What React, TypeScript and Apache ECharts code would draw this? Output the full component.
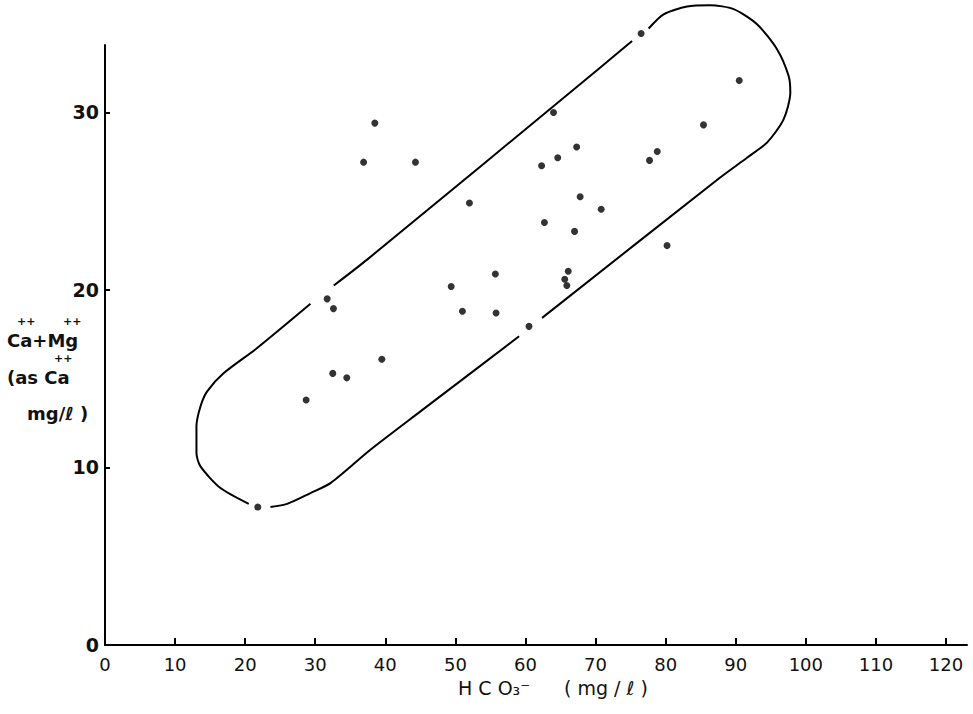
import React, { useEffect, useRef } from "react";
import * as echarts from "echarts";

// Sample measurements: bicarbonate (mg/l) against hardness as Ca (mg/l)
const hco3 = [
  28.7, 32.5, 34.5, 39.5, 31.7, 32.6, 36.9, 38.5, 44.3, 52.0, 49.4,
  51.0, 55.7, 55.8, 60.5, 62.3, 62.7, 64.0, 64.6, 67.0, 67.3, 67.8,
  70.8, 65.6, 65.9, 66.1, 77.7, 78.8, 80.2, 85.4, 90.5, 76.5, 21.8,
];
const caMg = [
  13.8, 15.3, 15.05, 16.1, 19.5, 18.95, 27.2, 29.4, 27.2, 24.9, 20.2,
  18.8, 20.9, 18.7, 17.95, 27.0, 23.8, 30.0, 27.45, 23.3, 28.05, 25.25,
  24.55, 20.6, 20.25, 21.05, 27.3, 27.8, 22.5, 29.3, 31.8, 34.45, 7.77,
];

// Hand-drawn envelope around the points, split where it passes a sample
const envelopeA = [
  [77.57, 34.73], [79.71, 35.53], [83.05, 35.97], [86.38, 36.04],
  [89.7, 35.82], [93.04, 34.97], [95.89, 33.56], [97.55, 32.05],
  [97.79, 31.12], [96.83, 29.61], [94.46, 28.3], [91.61, 27.45],
  [87.73, 26.32], [62.37, 18.43],
];
const envelopeB = [
  [59.09, 17.39], [45.01, 13.16], [37.87, 11.0], [32.17, 9.12],
  [29.32, 8.56], [25.99, 7.95], [23.61, 7.77],
];
const envelopeC = [
  [20.51, 7.95], [16.48, 8.84], [13.62, 10.06], [13.05, 10.81],
  [13.05, 12.31], [13.62, 13.44], [14.58, 14.29], [16.95, 15.32],
  [21.71, 16.73], [29.32, 19.22],
];
const envelopeD = [
  [32.64, 20.25], [37.4, 21.71], [70.68, 32.53], [75.21, 34.03],
];

const xTicks = [10, 20, 30, 40, 50, 60, 70, 80, 90, 100, 110, 120];
const xLabels = [0, 10, 20, 30, 40, 50, 60, 70, 80, 90, 100, 110, 120];
const yTicks = [10, 20, 30];
const yLabels = [0, 10, 20, 30];

const FONT = "DejaVu Sans";
const INK = "#111";

export default function App() {
  const ref = useRef<HTMLDivElement>(null);

  useEffect(() => {
    if (!ref.current) return;
    const chart = echarts.init(ref.current, undefined, { renderer: "svg" });

    const envelopeSeries = [envelopeA, envelopeB, envelopeC, envelopeD].map(
      (seg) => ({
        type: "line",
        name: "envelope",
        data: seg,
        smooth: 0.25,
        showSymbol: false,
        silent: true,
        clip: false,
        z: 1,
        lineStyle: { color: "#000", width: 2 },
      })
    );

    const nameText = (text: string, x: number, y: number, size = 18, weight = "bold") => ({
      type: "text",
      x,
      y,
      style: {
        text,
        fill: INK,
        font: `${weight} ${size}px "${FONT}"`,
        verticalAlign: "middle",
        align: "left",
      },
    });

    chart.setOption({
      animation: false,
      backgroundColor: "#fff",
      grid: { left: 105, right: 6, top: 45, bottom: 69, containLabel: false },
      xAxis: {
        type: "value",
        min: 0,
        max: 123,
        splitLine: { show: false },
        axisLine: { show: true, onZero: false, lineStyle: { color: "#000", width: 2 } },
        axisTick: {
          show: true,
          inside: true,
          length: 7,
          customValues: xTicks,
          lineStyle: { color: "#000", width: 2 },
        },
        axisLabel: {
          customValues: xLabels,
          margin: 10,
          color: INK,
          fontFamily: FONT,
          fontSize: 18,
        },
      },
      yAxis: {
        type: "value",
        min: 0,
        max: 33.8,
        splitLine: { show: false },
        axisLine: { show: true, onZero: false, lineStyle: { color: "#000", width: 2 } },
        axisTick: {
          show: true,
          inside: true,
          length: 5,
          customValues: yTicks,
          lineStyle: { color: "#000", width: 2 },
        },
        axisLabel: {
          customValues: yLabels,
          margin: 6,
          color: INK,
          fontFamily: FONT,
          fontSize: 19,
          fontWeight: "bold",
        },
      },
      series: [
        ...envelopeSeries,
        {
          type: "scatter",
          name: "samples",
          data: hco3.map((x, i) => [x, caMg[i]]),
          symbol: "circle",
          symbolSize: 7,
          clip: false,
          z: 3,
          itemStyle: { color: "#000" },
        },
      ],
      graphic: [
        // y-axis title, three lines with ++ marks set over the letters
        nameText("Ca+Mg", 7, 340),
        nameText("++", 17, 321, 11),
        nameText("++", 63, 321, 11),
        nameText("(as Ca", 7, 377),
        nameText("++", 54, 358, 11),
        nameText("mg/ℓ )", 27, 413),
        // x-axis title
        nameText("H C O₃⁻", 458, 688, 19, "normal"),
        nameText("( mg / ℓ )", 564, 688, 19, "normal"),
      ],
    });

    return () => chart.dispose();
  }, []);

  return (
    <div
      ref={ref}
      style={{ position: "absolute", left: 0, top: 0, width: 973, height: 714, background: "#fff" }}
    />
  );
}
